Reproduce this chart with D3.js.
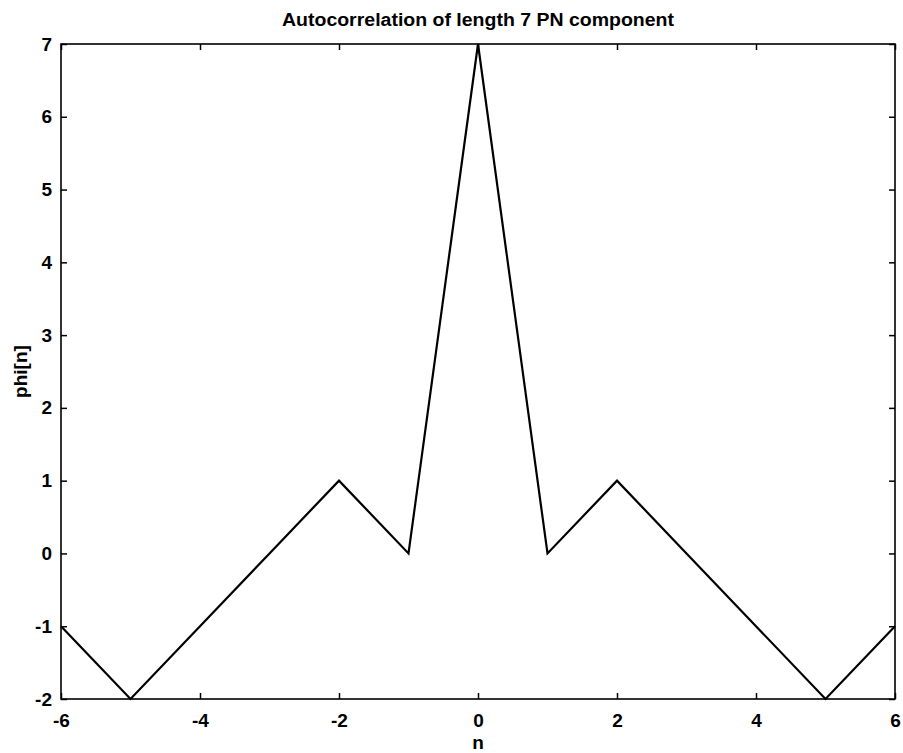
<!DOCTYPE html>
<html>
<head>
<meta charset="utf-8">
<script src="https://cdn.jsdelivr.net/npm/d3@7"></script>
<style>
  html, body { margin: 0; padding: 0; background: #fff; }
  svg text { font-family: "Liberation Sans", Arial, Helvetica, sans-serif; font-weight: bold; fill: #000; }
</style>
</head>
<body>
<svg id="chart" width="903" height="753"></svg>
<script>
// Autocorrelation phi[n] of a length-7 PN sequence, lags -6..6
const lags = [-6, -5, -4, -3, -2, -1, 0, 1, 2, 3, 4, 5, 6];
const phi  = [-1, -2, -1, 0, 1, 0, 7, 0, 1, 0, -1, -2, -1];
const xTicks = [-6, -4, -2, 0, 2, 4, 6];
const yTicks = [-2, -1, 0, 1, 2, 3, 4, 5, 6, 7];

const svg = d3.select("#chart");
const plotLeft = 61, plotRight = 895, plotTop = 44, plotBottom = 699;

const x = d3.scaleLinear().domain([-6, 6]).range([plotLeft, plotRight]);
const y = d3.scaleLinear().domain([-2, 7]).range([plotBottom, plotTop]);

const tickLen = 6;
const plain = d => String(d);   // ASCII hyphen for negatives

// bottom axis with labels, ticks pointing inward
svg.append("g")
  .attr("transform", `translate(0,${plotBottom})`)
  .call(d3.axisBottom(x).tickValues(xTicks).tickFormat(plain).tickSizeInner(-tickLen).tickSizeOuter(0).tickPadding(15))
  .call(g => g.select(".domain").remove())
  .call(g => g.selectAll("line").attr("stroke", "#000").attr("stroke-width", 1.5))
  .call(g => g.selectAll("text").attr("font-size", 19).attr("font-family", null));

// top axis: ticks only
svg.append("g")
  .attr("transform", `translate(0,${plotTop})`)
  .call(d3.axisTop(x).tickValues(xTicks).tickSizeInner(-tickLen).tickSizeOuter(0).tickFormat(""))
  .call(g => g.select(".domain").remove())
  .call(g => g.selectAll("line").attr("stroke", "#000").attr("stroke-width", 1.5));

// left axis with labels
svg.append("g")
  .attr("transform", `translate(${plotLeft},0)`)
  .call(d3.axisLeft(y).tickValues(yTicks).tickFormat(plain).tickSizeInner(-tickLen).tickSizeOuter(0).tickPadding(9))
  .call(g => g.select(".domain").remove())
  .call(g => g.selectAll("line").attr("stroke", "#000").attr("stroke-width", 1.5))
  .call(g => g.selectAll("text").attr("font-size", 19).attr("font-family", null));

// right axis: ticks only
svg.append("g")
  .attr("transform", `translate(${plotRight},0)`)
  .call(d3.axisRight(y).tickValues(yTicks).tickSizeInner(-tickLen).tickSizeOuter(0).tickFormat(""))
  .call(g => g.select(".domain").remove())
  .call(g => g.selectAll("line").attr("stroke", "#000").attr("stroke-width", 1.5));

// frame
svg.append("rect")
  .attr("x", plotLeft).attr("y", plotTop)
  .attr("width", plotRight - plotLeft).attr("height", plotBottom - plotTop)
  .attr("fill", "none").attr("stroke", "#000").attr("stroke-width", 1.6);

// autocorrelation curve
const line = d3.line().x((d, i) => x(lags[i])).y(d => y(d));
svg.append("path")
  .datum(phi)
  .attr("d", line)
  .attr("fill", "none")
  .attr("stroke", "#000")
  .attr("stroke-width", 2.2)
  .attr("stroke-linejoin", "miter");

// title and axis labels
svg.append("text")
  .attr("x", (plotLeft + plotRight) / 2).attr("y", 26)
  .attr("text-anchor", "middle").attr("font-size", 18)
  .attr("textLength", 392).attr("lengthAdjust", "spacingAndGlyphs")
  .text("Autocorrelation of length 7 PN component");

svg.append("text")
  .attr("x", (plotLeft + plotRight) / 2).attr("y", 749)
  .attr("text-anchor", "middle").attr("font-size", 19)
  .text("n");

svg.append("text")
  .attr("transform", `translate(27,${(plotTop + plotBottom) / 2}) rotate(-90)`)
  .attr("text-anchor", "middle").attr("font-size", 19)
  .text("phi[n]");
</script>
</body>
</html>
